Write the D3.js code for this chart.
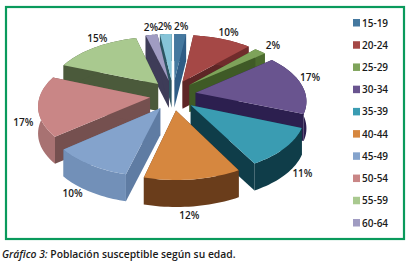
<!DOCTYPE html>
<html><head><meta charset="utf-8">
<script src="https://cdn.jsdelivr.net/npm/d3@7"></script>
<style>html,body{margin:0;padding:0;background:#fff}svg{display:block}text{font-family:"Open Sans",sans-serif;fill:#1a1a1a}</style>
</head><body><svg id="c" width="412" height="268"></svg>
<script>
const categories=["15-19","20-24","25-29","30-34","35-39","40-44","45-49","50-54","55-59","60-64","65+"];
const values=[2,10,2,17,11,12,10,17,15,2,2];
const legendCount=10;
const topColors=["#44789f","#a54846","#7ea35a","#69548f","#3a9cb2","#d6873f","#84a3cc","#c98686","#a9c98f","#a09cc2","#86c4d8"];
const rimColors=["#2f5c85","#702c2c","#4b6a2e","#2c1f4f","#0f3d49","#6a3d1b","#7290b8","#a87272","#4b5a3b","#3e3c58","#2c5562"];
const sideColors=["#2f5c85","#5e2626","#3f5a26","#2c1f4f","#0f3d49","#5a3216","#5f7ca3","#75504f","#4b5a3b","#3e3c58","#2c5562"];
const caption=["Gráfico 3:"," Población susceptible según su edad."];
// label placement relative to each slice's mid-angle: radius factor and angle nudge
const labelRadius=[1.2,1.18,1.2,1.13,1.1,1.11,1.1,1.15,1.15,1.18,1.2];
const labelTurn=[0,0,0,-0.1,-0.1,0.04,0.09,0.18,0.12,0.02,0];

const svg=d3.select("#c");
svg.append("rect").attr("x",6).attr("y",7).attr("width",398).attr("height",232).attr("fill","#fff").attr("stroke","#0a9a5c").attr("stroke-width",2.2);

const cx=173,cy=95,R=110,Ry=56,depth=27,eu=0.21,ev=0.27,persp=0.13;
const pie=d3.pie().sort(null).value(d=>d)(values);
const line=d3.line();
// ground-plane (u,v) to screen with simple perspective
function proj(u,v){const s=1/(1-persp*v);return [cx+R*u*s,cy+Ry*v*s];}
function P(a,r,o){return proj(r*Math.sin(a)+o.u,-r*Math.cos(a)+o.v);}
function down(p){return [p[0],p[1]+depth];}
const slices=pie.map((d,i)=>{
  const mid=(d.startAngle+d.endAngle)/2;
  const off={u:eu*Math.sin(mid),v:-ev*Math.cos(mid)};
  const arc=d3.range(0,25).map(k=>P(d.startAngle+(d.endAngle-d.startAngle)*k/24,1,off));
  return {d,i,mid,off,arc,tip:P(0,0,off)};
});
const order=slices.slice().sort((a,b)=>(-Math.cos(a.mid))-(-Math.cos(b.mid)));
const g=svg.append("g");
order.forEach(s=>{
  const gs=g.append("g");
  const A=s.arc[0],B=s.arc[s.arc.length-1];
  const side=p=>gs.append("path").attr("d",line([s.tip,p,down(p),down(s.tip)])+"Z").attr("fill",sideColors[s.i]);
  side(A);side(B);
  gs.append("path").attr("d",line(s.arc.concat(s.arc.slice().reverse().map(down)))+"Z").attr("fill",rimColors[s.i]);
  gs.append("path").attr("d",line([s.tip].concat(s.arc))+"Z").attr("fill",topColors[s.i]);
});
slices.forEach(s=>{
  const p=P(s.mid+labelTurn[s.i],labelRadius[s.i],s.off);
  svg.append("text").attr("x",p[0]).attr("y",p[1]+(Math.cos(s.mid)<0?depth:0)).attr("text-anchor","middle").attr("dy","0.35em")
   .attr("font-size",10).attr("font-weight",600).text(values[s.i]+"%");
});
const ly=d3.scalePoint().domain(categories.slice(0,legendCount)).range([23,223]);
const leg=svg.append("g").selectAll("g").data(categories.slice(0,legendCount)).join("g").attr("transform",d=>`translate(353,${ly(d)})`);
leg.append("rect").attr("x",0).attr("y",-4).attr("width",7).attr("height",7.5).attr("fill",(d,i)=>topColors[i]);
leg.append("text").attr("x",9).attr("y",0).attr("dy","0.35em").attr("font-size",10).attr("font-weight",600).text(d=>d);
const t=svg.append("text").attr("x",2).attr("y",258).attr("font-size",10.35).attr("font-weight",600);
t.append("tspan").attr("font-style","italic").text(caption[0]);
t.append("tspan").text(caption[1]);
</script></body></html>
